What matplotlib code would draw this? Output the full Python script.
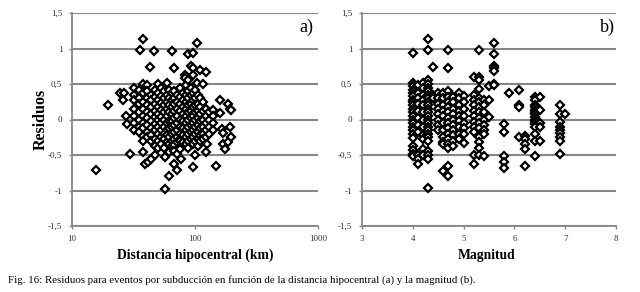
import matplotlib
matplotlib.use("Agg")
import matplotlib.pyplot as plt
from matplotlib.ticker import FixedLocator, NullLocator, FuncFormatter

plt.rcParams['font.family'] = ['Liberation Serif', 'DejaVu Serif']

# panel a) residuos vs distancia hipocentral (km), agrupados por distancia
cols_a = {
    15.7: [-0.71], 19.5: [0.21], 24.6: [0.37], 26.6: [0.38], 26.0: [0.27],
    27.3: [0.05], 27.8: [-0.07], 29.6: [-0.49],
    32: [0.45, 0.35, 0.27, 0.15, 0.05, -0.05, -0.15],
    35: [0.42, 0.30, 0.22, 0.10, 0.0, -0.11, -0.18],
    36: [0.98],
    38: [1.14, 0.50, 0.38, 0.25, 0.15, 0.05, -0.05, -0.12, -0.23, -0.30, -0.46],
    39.2: [-0.62],
    41: [0.48, 0.40, 0.30, 0.20, 0.10, 0.02, -0.08, -0.18, -0.25],
    41.7: [-0.60],
    43: [0.74],
    44: [0.35, 0.27, 0.18, 0.08, -0.02, -0.12, -0.22, -0.30, -0.55],
    46: [0.97],
    47: [0.42, 0.32, 0.22, 0.12, 0.03, -0.07, -0.15, -0.28, -0.38, -0.50],
    50: [0.50, 0.38, 0.28, 0.18, 0.08, 0.0, -0.10, -0.20, -0.30, -0.40],
    53: [0.45, 0.33, 0.23, 0.13, 0.03, -0.05, -0.15, -0.25, -0.35],
    56: [0.40, 0.30, 0.20, 0.10, 0.0, -0.10, -0.20, -0.28, -0.40],
    57: [-0.53, -0.98],
    59: [0.52, 0.35, 0.25, 0.15, 0.05, -0.05, -0.15, -0.22, -0.32],
    61: [-0.80],
    62: [0.42, 0.30, 0.20, 0.10, -0.02, -0.12, -0.25, -0.35, -0.46],
    65: [0.97, 0.38, 0.28, 0.18, 0.08, -0.02, -0.10, -0.20, -0.30, -0.38],
    67: [0.73],
    68: [0.40, 0.30, 0.22, 0.12, 0.02, -0.08, -0.18, -0.28, -0.36, -0.44, -0.62],
    71: [-0.71],
    72: [0.35, 0.25, 0.15, 0.05, -0.05, -0.15, -0.25, -0.32, -0.48],
    76: [0.45, 0.32, 0.22, 0.12, 0.0, -0.10, -0.20, -0.30, -0.42],
    77.6: [-0.55],
    80: [0.38, 0.28, 0.18, 0.08, -0.02, -0.12, -0.22, -0.32],
    83: [0.62, 0.59],
    84: [0.48, 0.35, 0.25, 0.15, 0.05, -0.05, -0.15, -0.25, -0.35],
    87: [0.92, 0.56],
    88: [0.40, 0.30, 0.20, 0.10, 0.0, -0.10, -0.20, -0.30, -0.40],
    93: [0.75, 0.45, 0.35, 0.22, 0.12, 0.02, -0.08, -0.18, -0.28],
    95.6: [-0.67],
    97: [0.94, 0.72, 0.62, 0.38, 0.28, 0.18, 0.05, -0.05, -0.15, -0.25, -0.35],
    100: [0.42, 0.30, 0.20, 0.10, 0.0, -0.10, -0.20, -0.30, -0.50],
    103: [1.08, 0.52],
    105: [0.35, 0.22, 0.12, 0.02, -0.08, -0.18, -0.28, -0.38],
    110: [0.70, 0.30, 0.18, 0.08, -0.02, -0.12, -0.22, -0.30],
    116: [0.50, 0.25, 0.12, 0.0, -0.10, -0.20, -0.28],
    122: [0.15, 0.05, -0.05, -0.15, -0.25],
    124: [0.67, -0.46],
    126: [-0.34],
    130: [0.10, 0.0, -0.10, -0.20],
    139: [0.13, 0.05, -0.05, -0.15],
    148: [-0.65],
    159: [0.28, 0.09],
    165: [-0.14],
    169: [-0.19, -0.34],
    175: [-0.41],
    185: [0.22, -0.31],
    192: [0.15, -0.10],
    198: [0.14, -0.25],
}

# panel b) residuos vs magnitud
cols_b = {
    4.0: [0.94, 0.52, 0.47, 0.42, 0.37, 0.33, 0.28, 0.24, 0.20, 0.15, 0.10, 0.05,
          0.0, -0.05, -0.10, -0.15, -0.20, -0.26, -0.38, -0.43, -0.48, -0.52],
    4.1: [0.48, 0.38, 0.30, 0.22, 0.12, 0.02, -0.08, -0.18, -0.50, -0.56, -0.62],
    4.2: [0.52, 0.44, 0.35, 0.28, 0.20, 0.10, 0.0, -0.10, -0.22, -0.28, -0.42, -0.50],
    4.3: [1.14, 0.98, 0.55, 0.50, 0.45, 0.40, 0.35, 0.30, 0.25, 0.20, 0.15, 0.10,
          0.05, 0.0, -0.05, -0.10, -0.15, -0.20, -0.25, -0.30, -0.45, -0.50, -0.56, -0.97],
    4.4: [0.74, 0.35, 0.30],
    4.5: [0.38, 0.30, 0.22, 0.15, 0.08, 0.0, -0.08, -0.15],
    4.6: [0.38, 0.30, 0.20, 0.12, 0.05, -0.05, -0.15, -0.25, -0.32, -0.35, -0.72],
    4.7: [0.98, 0.73, 0.40, 0.32, 0.25, 0.18, 0.10, 0.02, -0.05, -0.12, -0.20,
          -0.28, -0.35, -0.40, -0.66, -0.80],
    4.8: [0.32, 0.25, 0.15, 0.08, 0.0, -0.08, -0.15, -0.22, -0.30, -0.37],
    4.9: [0.38, 0.30, 0.20, 0.12, 0.05, -0.02, -0.10, -0.20, -0.28],
    5.0: [0.33, 0.25, 0.15, 0.05, -0.05, -0.12, -0.20, -0.33],
    5.2: [0.60, 0.35, 0.28, 0.20, 0.12, 0.05, -0.03, -0.10, -0.18, -0.50, -0.62],
    5.3: [0.98, 0.60, 0.55, 0.43, 0.30, 0.25, 0.18, 0.10, 0.02, -0.05, -0.12,
          -0.25, -0.32, -0.40, -0.50],
    5.4: [0.28, 0.20, 0.10, 0.0, -0.08, -0.15, -0.20, -0.52],
    5.5: [0.47, 0.27, 0.03],
    5.6: [1.08, 0.92, 0.75, 0.72, 0.68, 0.50, 0.48],
    5.8: [-0.07, -0.17, -0.52, -0.60, -0.69],
    5.9: [0.37],
    6.1: [0.41, 0.21, 0.18, -0.25],
    6.2: [-0.23, -0.27, -0.34, -0.42, -0.66],
    6.4: [0.31, 0.28, 0.21, 0.17, 0.14, 0.10, 0.08, 0.03, 0.0, -0.04, -0.06,
          -0.11, -0.20, -0.30, -0.51],
    6.5: [0.32, 0.14, -0.05, -0.10, -0.30],
    6.9: [0.21, 0.08, -0.04, -0.10, -0.15, -0.19, -0.25, -0.30, -0.49],
    7.0: [0.08],
}

yticks = [-1.5, -1, -0.5, 0, 0.5, 1, 1.5]

dist_a = [d for d, rs in cols_a.items() for r in rs]
res_a = [r for d, rs in cols_a.items() for r in rs]
mag_b = [m for m, rs in cols_b.items() for r in rs]
res_b = [r for m, rs in cols_b.items() for r in rs]

GRIS = '#878787'


def fmt(v, pos):
    s = ('%g' % v).replace('.', ',')
    return s


def estilo(ax):
    ax.set_ylim(-1.5, 1.5)
    ax.yaxis.set_major_locator(FixedLocator(yticks))
    ax.yaxis.set_major_formatter(FuncFormatter(fmt))
    ax.grid(axis='y', color=GRIS, lw=1.5)
    ax.set_axisbelow(True)
    for s in ['top', 'right']:
        ax.spines[s].set_visible(False)
    for s in ['left', 'bottom']:
        ax.spines[s].set_color(GRIS)
        ax.spines[s].set_linewidth(1.3)
    ax.tick_params(axis='y', length=2.5, width=1.0, color=GRIS, pad=4.5,
                   labelsize=6.5, labelcolor='#333333')
    ax.tick_params(axis='x', length=2.5, width=1.0, color=GRIS, pad=4.0,
                   labelsize=6.5, labelcolor='#333333')


fig = plt.figure(figsize=(6.4, 2.92), dpi=100)
ax1 = fig.add_axes([72 / 640, 1 - 226 / 292, 246 / 640, 213 / 292])
ax2 = fig.add_axes([362 / 640, 1 - 226 / 292, 254 / 640, 213 / 292])

mk = dict(marker='D', ms=4.0, mfc='white', mec='black', mew=1.6, ls='none')

ax1.plot(dist_a, res_a, **mk)
ax1.set_xscale('log')
ax1.set_xlim(10, 1000)
ax1.xaxis.set_major_locator(FixedLocator([10, 100, 1000]))
ax1.xaxis.set_minor_locator(NullLocator())
ax1.xaxis.set_major_formatter(FuncFormatter(lambda v, p: '%d' % v))
estilo(ax1)

ax2.plot(mag_b, res_b, **mk)
ax2.set_xlim(3, 8)
ax2.xaxis.set_major_locator(FixedLocator([3, 4, 5, 6, 7, 8]))
ax2.xaxis.set_major_formatter(FuncFormatter(lambda v, p: '%d' % v))
estilo(ax2)

fig.text(195 / 640, 1 - 255 / 292, 'Distancia hipocentral (km)', ha='center',
         va='center', fontsize=9.8, fontweight='bold')
fig.text(487 / 640, 1 - 255 / 292, 'Magnitud', ha='center', va='center',
         fontsize=9.8, fontweight='bold')
fig.text(41 / 640, 1 - 119 / 292, 'Residuos', ha='center', va='center',
         rotation=90, fontsize=11.5, fontweight='bold')
fig.text(306 / 640, 1 - 27 / 292, 'a)', ha='center', va='center', fontsize=13)
fig.text(607 / 640, 1 - 27 / 292, 'b)', ha='center', va='center', fontsize=13)
fig.text(8 / 640, 1 - 280 / 292,
         'Fig. 16: Residuos para eventos por subducción en función de la distancia '
         'hipocentral (a) y la magnitud (b).', ha='left', va='center', fontsize=7.8)

fig.savefig('out.png', dpi=100, facecolor='white')
